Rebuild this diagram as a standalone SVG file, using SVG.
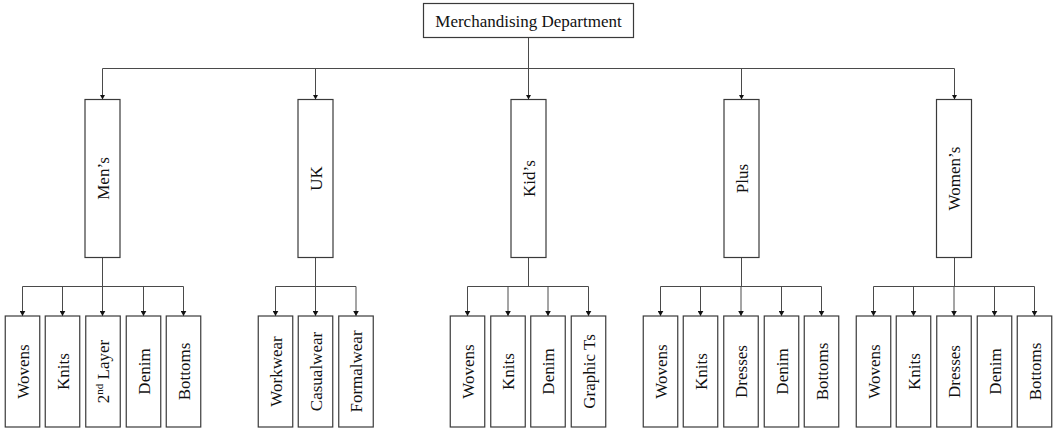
<svg xmlns="http://www.w3.org/2000/svg" width="1055" height="428" viewBox="0 0 1055 428">
<style>
.box{fill:#fff;stroke:#3a3a3a;stroke-width:1.2}
.lbl{font-family:"Liberation Serif","Times New Roman",serif;font-size:17px;fill:#111;text-anchor:middle}
.ln{fill:none;stroke:#4a4a4a;stroke-width:1}
.ar{fill:none;stroke:#4a4a4a;stroke-width:1;marker-end:url(#ah)}
</style>
<defs>
<marker id="ah" markerWidth="6" markerHeight="6" refX="5" refY="3" orient="auto" markerUnits="userSpaceOnUse">
<path d="M0,0.2 L5,3 L0,5.8 Z" fill="#111"/>
</marker>
</defs>
<rect width="1055" height="428" fill="#fff"/>
<g id="connectors">
<path class="ln" d="M528.5,38 V68.5 M102.5,68.5 H954.5"/>
<path class="ar" d="M102.5,68.5 V99.5"/>
<path class="ar" d="M315.5,68.5 V99.5"/>
<path class="ar" d="M528.5,68.5 V99.5"/>
<path class="ar" d="M741.5,68.5 V99.5"/>
<path class="ar" d="M954.5,68.5 V99.5"/>
<path class="ln" d="M102.5,257.5 V286.5 M22.5,286.5 H183.5"/>
<path class="ar" d="M22.5,286.5 V316"/>
<path class="ar" d="M62.5,286.5 V316"/>
<path class="ar" d="M102.5,286.5 V316"/>
<path class="ar" d="M143.5,286.5 V316"/>
<path class="ar" d="M183.5,286.5 V316"/>
<path class="ln" d="M315.5,257.5 V286.5 M275.5,286.5 H356"/>
<path class="ar" d="M275.5,286.5 V316"/>
<path class="ar" d="M315.5,286.5 V316"/>
<path class="ar" d="M356,286.5 V316"/>
<path class="ln" d="M528.5,257.5 V286.5 M467.5,286.5 H588.5"/>
<path class="ar" d="M467.5,286.5 V316"/>
<path class="ar" d="M508,286.5 V316"/>
<path class="ar" d="M548,286.5 V316"/>
<path class="ar" d="M588.5,286.5 V316"/>
<path class="ln" d="M741.5,257.5 V286.5 M660.5,286.5 H821.5"/>
<path class="ar" d="M660.5,286.5 V316"/>
<path class="ar" d="M700.5,286.5 V316"/>
<path class="ar" d="M741,286.5 V316"/>
<path class="ar" d="M781.5,286.5 V316"/>
<path class="ar" d="M821.5,286.5 V316"/>
<path class="ln" d="M954.5,257.5 V286.5 M873.5,286.5 H1034.5"/>
<path class="ar" d="M873.5,286.5 V316"/>
<path class="ar" d="M913.5,286.5 V316"/>
<path class="ar" d="M954,286.5 V316"/>
<path class="ar" d="M994.5,286.5 V316"/>
<path class="ar" d="M1034.5,286.5 V316"/>
</g>
<g id="root"><rect class="box" x="423.5" y="3.5" width="210" height="34"/><text class="lbl" x="528.5" y="26.5">Merchandising Department</text></g>
<g id="mens"><rect class="box" x="85" y="99.5" width="35" height="158"/><text class="lbl" transform="translate(102.5,178.5) rotate(-90)" y="6">Men’s</text></g>
<g id="uk"><rect class="box" x="298" y="99.5" width="35" height="158"/><text class="lbl" transform="translate(315.5,178.5) rotate(-90)" y="6">UK</text></g>
<g id="kids"><rect class="box" x="511" y="99.5" width="35" height="158"/><text class="lbl" transform="translate(528.5,178.5) rotate(-90)" y="6">Kid’s</text></g>
<g id="plus"><rect class="box" x="724" y="99.5" width="35" height="158"/><text class="lbl" transform="translate(741.5,178.5) rotate(-90)" y="6">Plus</text></g>
<g id="womens"><rect class="box" x="936.5" y="99.5" width="35" height="158"/><text class="lbl" transform="translate(954,178.5) rotate(-90)" y="6">Women’s</text></g>

<g id="m-wovens"><rect class="box" x="5.25" y="316" width="34.5" height="111"/><text class="lbl" transform="translate(22.5,371.5) rotate(-90)" y="6">Wovens</text></g>
<g id="m-knits"><rect class="box" x="45.25" y="316" width="34.5" height="111"/><text class="lbl" transform="translate(62.5,371.5) rotate(-90)" y="6">Knits</text></g>
<g id="m-2nd"><rect class="box" x="85.75" y="316" width="34.5" height="111"/><text class="lbl" transform="translate(103,371.5) rotate(-90)" y="6">2<tspan font-size="11" baseline-shift="super">nd</tspan> Layer</text></g>
<g id="m-denim"><rect class="box" x="126.25" y="316" width="34.5" height="111"/><text class="lbl" transform="translate(143.5,371.5) rotate(-90)" y="6">Denim</text></g>
<g id="m-bottoms"><rect class="box" x="166.25" y="316" width="34.5" height="111"/><text class="lbl" transform="translate(183.5,371.5) rotate(-90)" y="6">Bottoms</text></g>

<g id="u-workwear"><rect class="box" x="258.25" y="316" width="34.5" height="111"/><text class="lbl" transform="translate(275.5,371.5) rotate(-90)" y="6">Workwear</text></g>
<g id="u-casualwear"><rect class="box" x="298.25" y="316" width="34.5" height="111"/><text class="lbl" transform="translate(315.5,371.5) rotate(-90)" y="6">Casualwear</text></g>
<g id="u-formalwear"><rect class="box" x="338.75" y="316" width="34.5" height="111"/><text class="lbl" transform="translate(356,371.5) rotate(-90)" y="6">Formalwear</text></g>

<g id="k-wovens"><rect class="box" x="450.25" y="316" width="34.5" height="111"/><text class="lbl" transform="translate(467.5,371.5) rotate(-90)" y="6">Wovens</text></g>
<g id="k-knits"><rect class="box" x="490.75" y="316" width="34.5" height="111"/><text class="lbl" transform="translate(508,371.5) rotate(-90)" y="6">Knits</text></g>
<g id="k-denim"><rect class="box" x="530.75" y="316" width="34.5" height="111"/><text class="lbl" transform="translate(548,371.5) rotate(-90)" y="6">Denim</text></g>
<g id="k-graphic"><rect class="box" x="571.25" y="316" width="34.5" height="111"/><text class="lbl" transform="translate(588.5,371.5) rotate(-90)" y="6">Graphic Ts</text></g>

<g id="p-wovens"><rect class="box" x="643.25" y="316" width="34.5" height="111"/><text class="lbl" transform="translate(660.5,371.5) rotate(-90)" y="6">Wovens</text></g>
<g id="p-knits"><rect class="box" x="683.25" y="316" width="34.5" height="111"/><text class="lbl" transform="translate(700.5,371.5) rotate(-90)" y="6">Knits</text></g>
<g id="p-dresses"><rect class="box" x="723.75" y="316" width="34.5" height="111"/><text class="lbl" transform="translate(741,371.5) rotate(-90)" y="6">Dresses</text></g>
<g id="p-denim"><rect class="box" x="764.25" y="316" width="34.5" height="111"/><text class="lbl" transform="translate(781.5,371.5) rotate(-90)" y="6">Denim</text></g>
<g id="p-bottoms"><rect class="box" x="804.25" y="316" width="34.5" height="111"/><text class="lbl" transform="translate(821.5,371.5) rotate(-90)" y="6">Bottoms</text></g>

<g id="w-wovens"><rect class="box" x="856.25" y="316" width="34.5" height="111"/><text class="lbl" transform="translate(873.5,371.5) rotate(-90)" y="6">Wovens</text></g>
<g id="w-knits"><rect class="box" x="896.25" y="316" width="34.5" height="111"/><text class="lbl" transform="translate(913.5,371.5) rotate(-90)" y="6">Knits</text></g>
<g id="w-dresses"><rect class="box" x="936.75" y="316" width="34.5" height="111"/><text class="lbl" transform="translate(954,371.5) rotate(-90)" y="6">Dresses</text></g>
<g id="w-denim"><rect class="box" x="977.25" y="316" width="34.5" height="111"/><text class="lbl" transform="translate(994.5,371.5) rotate(-90)" y="6">Denim</text></g>
<g id="w-bottoms"><rect class="box" x="1017.25" y="316" width="34.5" height="111"/><text class="lbl" transform="translate(1034.5,371.5) rotate(-90)" y="6">Bottoms</text></g>
</svg>
